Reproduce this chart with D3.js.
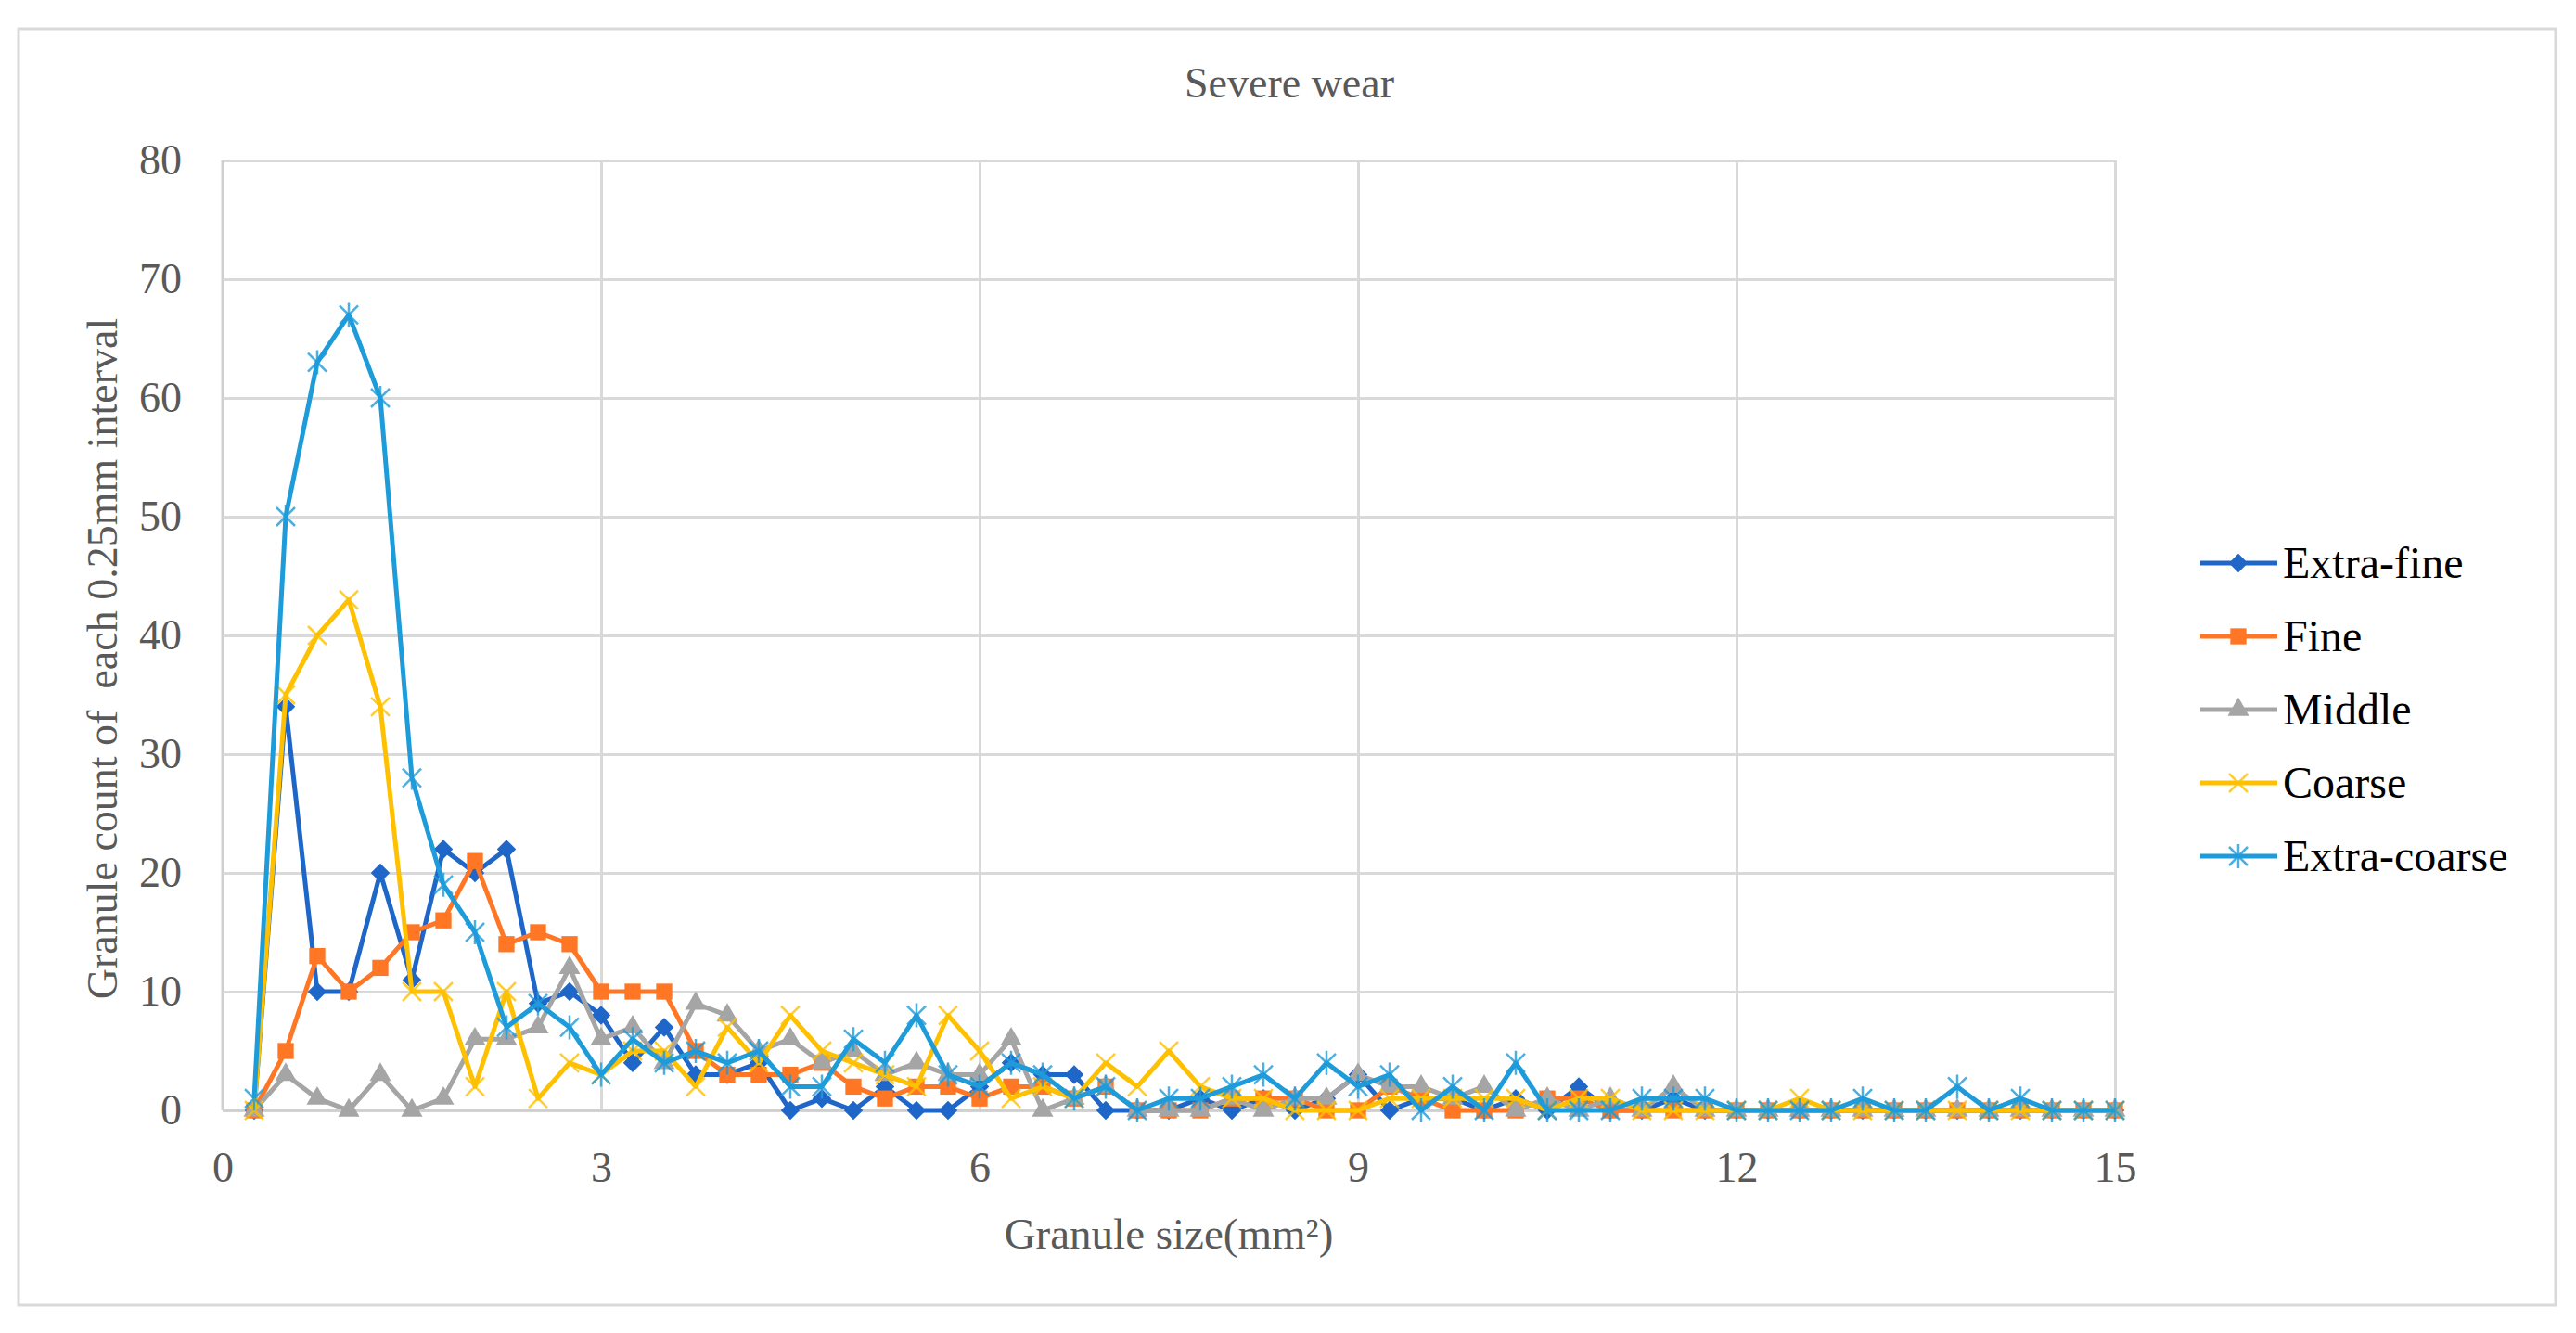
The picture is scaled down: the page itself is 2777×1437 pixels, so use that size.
<html>
  <head>
    <meta charset="utf-8">
    <title>Severe wear</title>
    <script src="https://d3js.org/d3.v7.min.js" charset="utf-8"></script>
    <style>
      body { margin: 0; background: #fff; }
      text { font-family: "Liberation Serif", "Times New Roman", serif; }
    </style>
  </head>
  <body>
    <script>
      // granule size (mm2) at each 0.25 step
      var sizes = [0.25, 0.5, 0.75, 1, 1.25, 1.5, 1.75, 2, 2.25, 2.5, 2.75, 3,
                   3.25, 3.5, 3.75, 4, 4.25, 4.5, 4.75, 5, 5.25, 5.5, 5.75, 6,
                   6.25, 6.5, 6.75, 7, 7.25, 7.5, 7.75, 8, 8.25, 8.5, 8.75, 9,
                   9.25, 9.5, 9.75, 10, 10.25, 10.5, 10.75, 11, 11.25, 11.5, 11.75, 12,
                   12.25, 12.5, 12.75, 13, 13.25, 13.5, 13.75, 14, 14.25, 14.5, 14.75, 15];

      var extraFine = [0, 34, 10, 10, 20, 11, 22, 20, 22, 9, 10, 8,
                       4, 7, 3, 3, 4, 0, 1, 0, 2, 0, 0, 2,
                       4, 3, 3, 0, 0, 0, 1, 0, 1, 0, 1, 3,
                       0, 1, 1, 0, 1, 0, 2, 0, 0, 1, 0, 0,
                       0, 0, 0, 0, 0, 0, 0, 0, 0, 0, 0, 0];

      var fine = [0, 5, 13, 10, 12, 15, 16, 21, 14, 15, 14, 10,
                  10, 10, 5, 3, 3, 3, 4, 2, 1, 2, 2, 1,
                  2, 2, 1, 2, 0, 0, 0, 1, 1, 1, 0, 0,
                  2, 1, 0, 0, 0, 1, 1, 0, 0, 0, 0, 0,
                  0, 0, 0, 0, 0, 0, 0, 0, 0, 0, 0, 0];

      var middle = [0, 3, 1, 0, 3, 0, 1, 6, 6, 7, 12, 6,
                    7, 4, 9, 8, 5, 6, 4, 5, 3, 4, 3, 3,
                    6, 0, 1, 2, 0, 0, 0, 1, 0, 1, 1, 3,
                    2, 2, 1, 2, 0, 1, 0, 1, 0, 2, 0, 0,
                    0, 0, 0, 0, 0, 0, 0, 0, 0, 0, 0, 0];

      var coarse = [0, 35, 40, 43, 34, 10, 10, 2, 10, 1, 4, 3,
                    5, 5, 2, 7, 4, 8, 5, 4, 3, 2, 8, 5,
                    1, 2, 1, 4, 2, 5, 2, 1, 1, 0, 0, 0,
                    1, 1, 1, 1, 1, 0, 1, 1, 0, 0, 0, 0,
                    0, 1, 0, 0, 0, 0, 0, 0, 0, 0, 0, 0];

      var extraCoarse = [1, 50, 63, 67, 60, 28, 19, 15, 7, 9, 7, 3,
                         6, 4, 5, 4, 5, 2, 2, 6, 4, 8, 3, 2,
                         4, 3, 1, 2, 0, 1, 1, 2, 3, 1, 4, 2,
                         3, 0, 2, 0, 4, 0, 0, 0, 1, 1, 1, 0,
                         0, 0, 0, 1, 0, 0, 2, 0, 1, 0, 0, 0];

      var seriesNames = ["Extra-fine", "Fine", "Middle", "Coarse", "Extra-coarse"];
      var xTicks = [0, 3, 6, 9, 12, 15];
      var yTicks = [0, 10, 20, 30, 40, 50, 60, 70, 80];

      var width = 2777,
          height = 1437;

      var series = [
        {name: seriesNames[0], values: extraFine, color: "#1f66c9", marker: "diamond"},
        {name: seriesNames[1], values: fine, color: "#ff7625", marker: "square"},
        {name: seriesNames[2], values: middle, color: "#a5a5a5", marker: "triangle"},
        {name: seriesNames[3], values: coarse, color: "#ffc000", marker: "cross"},
        {name: seriesNames[4], values: extraCoarse, color: "#1e9bd9", marker: "star"}
      ];

      var x = d3.scaleLinear().domain([0, 15]).range([240, 2280]);
      var y = d3.scaleLinear().domain([0, 80]).range([1197, 173]);

      var svg = d3.select("body").append("svg")
        .attr("width", width)
        .attr("height", height);

      // outer chart frame
      svg.append("rect")
        .attr("x", 20).attr("y", 31)
        .attr("width", 2735).attr("height", 1376)
        .attr("fill", "#fff")
        .attr("stroke", "#d9d9d9")
        .attr("stroke-width", 3);

      // grid lines
      var yGrid = svg.append("g")
        .attr("transform", "translate(240,0)")
        .call(d3.axisLeft(y).tickValues(yTicks).tickSize(-2040).tickFormat(""));
      var xGrid = svg.append("g")
        .attr("transform", "translate(0,1197)")
        .call(d3.axisBottom(x).tickValues(xTicks).tickSize(-1024).tickFormat(""));
      svg.selectAll(".tick line").attr("stroke", "#d9d9d9").attr("stroke-width", 3);
      yGrid.select(".domain").remove();
      xGrid.select(".domain").remove();

      // axis lines
      svg.append("line")
        .attr("x1", 240).attr("x2", 240).attr("y1", 173).attr("y2", 1197)
        .attr("stroke", "#cfcfcf").attr("stroke-width", 3);
      svg.append("line")
        .attr("x1", 240).attr("x2", 2280).attr("y1", 1197).attr("y2", 1197)
        .attr("stroke", "#cfcfcf").attr("stroke-width", 3);

      // tick labels
      var yAxis = svg.append("g")
        .attr("transform", "translate(240,0)")
        .call(d3.axisLeft(y).tickValues(yTicks).tickSize(0).tickPadding(44));
      var xAxis = svg.append("g")
        .attr("transform", "translate(0,1197)")
        .call(d3.axisBottom(x).tickValues(xTicks).tickSize(0).tickPadding(44));
      [xAxis, yAxis].forEach(function(a) {
        a.select(".domain").remove();
        a.selectAll("text")
          .attr("fill", "#595959")
          .style("font-family", "'Liberation Serif', 'Times New Roman', serif")
          .style("font-size", "46px");
      });

      // titles
      svg.append("text")
        .attr("x", 1390).attr("y", 105)
        .attr("text-anchor", "middle")
        .attr("fill", "#595959")
        .style("font-size", "46px")
        .text("Severe wear");

      svg.append("text")
        .attr("x", 1260).attr("y", 1346)
        .attr("text-anchor", "middle")
        .attr("fill", "#595959")
        .style("font-size", "47px")
        .text("Granule size(mm²)");

      svg.append("text")
        .attr("transform", "translate(126,710) rotate(-90)")
        .attr("text-anchor", "middle")
        .attr("fill", "#595959")
        .style("font-size", "46px")
        .style("white-space", "pre")
        .text("Granule count of  each 0.25mm interval");

      // marker shapes
      function addMarker(g, type, color, cx, cy) {
        var t = "translate(" + cx + "," + cy + ")";
        if (type == "diamond") {
          g.append("path").attr("d", d3.symbol(d3.symbolSquare, 210)())
            .attr("transform", t + " rotate(45)").attr("fill", color);
        } else if (type == "square") {
          g.append("path").attr("d", d3.symbol(d3.symbolSquare, 300)())
            .attr("transform", t).attr("fill", color);
        } else if (type == "triangle") {
          g.append("path").attr("d", d3.symbol(d3.symbolTriangle, 230)())
            .attr("transform", t).attr("fill", color);
        } else if (type == "cross") {
          g.append("path").attr("d", "M-10,-10L10,10M-10,10L10,-10")
            .attr("transform", t).attr("fill", "none")
            .attr("stroke", color).attr("stroke-width", 2.5).attr("opacity", 0.8);
        } else {
          g.append("path").attr("d", "M-10,-10L10,10M-10,10L10,-10M0,-13L0,13")
            .attr("transform", t).attr("fill", "none")
            .attr("stroke", color).attr("stroke-width", 2.5).attr("opacity", 0.8);
        }
      }

      var line = d3.line()
        .x(function(d) { return x(d[0]); })
        .y(function(d) { return y(d[1]); });

      series.forEach(function(s) {
        var pts = sizes.map(function(v, i) { return [v, s.values[i]]; });
        var g = svg.append("g");
        g.append("path")
          .datum(pts)
          .attr("d", line)
          .attr("fill", "none")
          .attr("stroke", s.color)
          .attr("stroke-width", 5)
          .attr("stroke-linejoin", "round");
        pts.forEach(function(p) {
          addMarker(g, s.marker, s.color, x(p[0]), y(p[1]));
        });
      });

      // legend
      var legend = svg.append("g");
      series.forEach(function(s, i) {
        var ly = 607 + i * 79;
        legend.append("line")
          .attr("x1", 2372).attr("x2", 2455).attr("y1", ly).attr("y2", ly)
          .attr("stroke", s.color).attr("stroke-width", 5);
        addMarker(legend, s.marker, s.color, 2413, ly);
        legend.append("text")
          .attr("x", 2461).attr("y", ly + 16)
          .attr("fill", "#000")
          .style("font-size", "48px")
          .text(s.name);
      });
    </script>
  </body>
</html>
